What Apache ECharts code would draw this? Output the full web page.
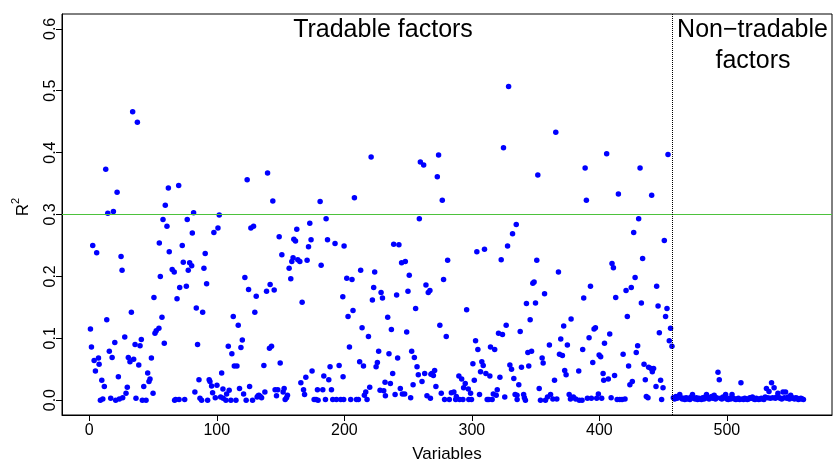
<!DOCTYPE html>
<html>
<head>
<meta charset="utf-8">
<script src="https://cdn.jsdelivr.net/npm/echarts@6.0.0/dist/echarts.min.js"></script>
<style>
  html, body { margin: 0; padding: 0; background: #fff; }
  #chart { width: 833px; height: 461px; }
</style>
</head>
<body>
<div id="chart"></div>
<script>
// variable index, R^2
const tradable = [
  [0.9, 0.115], [1.7, 0.086], [2.7, 0.250], [3.8, 0.064], [4.8, 0.047], [5.8, 0.238],
  [7.2, 0.068], [7.7, 0.058], [8.7, 0.000], [9.8, 0.032], [10.6, 0.002], [11.8, 0.022],
  [12.9, 0.373], [13.7, 0.130], [14.5, 0.302], [15.7, 0.079], [16.8, 0.003], [17.9, 0.069],
  [18.9, 0.305], [20.0, 0.093], [20.7, 0.000], [21.8, 0.336], [22.8, 0.038], [23.6, 0.002],
  [24.9, 0.232], [25.7, 0.210], [26.2, 0.004], [27.8, 0.102], [28.8, 0.011], [29.8, 0.021],
  [30.6, 0.069], [31.9, 0.062], [33.0, 0.142], [34.0, 0.466], [34.8, 0.066], [35.9, 0.090],
  [36.6, 0.003], [37.7, 0.449], [38.8, 0.057], [39.8, 0.088], [40.8, 0.098], [41.6, 0.000],
  [42.7, 0.022], [44.5, 0.000], [45.8, 0.044], [46.8, 0.030], [47.6, 0.034], [48.7, 0.068],
  [50.0, 0.011], [50.7, 0.166], [51.5, 0.108], [52.5, 0.112], [54.6, 0.116], [54.9, 0.254],
  [55.7, 0.200], [57.0, 0.134], [57.8, 0.292], [58.8, 0.092], [59.6, 0.315], [60.9, 0.281],
  [62.0, 0.343], [62.7, 0.240], [65.0, 0.211], [66.6, 0.207], [66.9, 0.000],
  [67.7, 0.001], [68.8, 0.164], [70.1, 0.347], [70.4, 0.001], [70.9, 0.182], [72.9, 0.250],
  [73.7, 0.223], [74.8, 0.001], [76.1, 0.184], [76.8, 0.292], [77.6, 0.210], [78.7, 0.222],
  [80.3, 0.217], [80.8, 0.270], [81.8, 0.303], [82.8, 0.013], [83.9, 0.149], [84.9, 0.090],
  [86.0, 0.033], [86.8, 0.003], [88.1, 0.000], [88.9, 0.142], [89.9, 0.213], [90.9, 0.237],
  [92.0, 0.188], [92.8, 0.000], [94.0, 0.033], [94.6, 0.030], [95.9, 0.023], [96.7, 0.012],
  [97.7, 0.271], [98.8, 0.004], [100.1, 0.024], [100.9, 0.278], [101.9, 0.299], [103.0, 0.005],
  [103.8, 0.044], [104.8, 0.018], [105.0, 0.003], [107.1, 0.000], [107.7, 0.010], [109.0, 0.087],
  [109.7, 0.016], [111.0, 0.000], [111.8, 0.075], [112.9, 0.135], [113.7, 0.055], [115.0, 0.000],
  [115.8, 0.055], [116.8, 0.121], [117.8, 0.019], [118.9, 0.085], [120.0, 0.097], [121.0, 0.010],
  [122.0, 0.198], [123.0, 0.000], [123.8, 0.356], [124.9, 0.179], [125.7, 0.022], [126.7, 0.278],
  [128.0, 0.000], [128.8, 0.281], [129.8, 0.142], [130.9, 0.168], [131.6, 0.005], [133.0, 0.008],
  [132.4, 0.007], [134.2, 0.006], [135.1, 0.004], [136.9, 0.056], [137.7, 0.013], [139.0, 0.176],
  [139.8, 0.367], [141.3, 0.084], [141.8, 0.187], [142.9, 0.087], [143.9, 0.322], [145.0, 0.178],
  [145.7, 0.017], [146.8, 0.007], [147.8, 0.017], [148.9, 0.264], [149.7, 0.060], [151.0, 0.235],
  [152.0, 0.013], [152.8, 0.019], [153.6, 0.001], [154.7, 0.004], [155.4, 0.008], [156.7, 0.213],
  [158.0, 0.196], [158.8, 0.224], [159.8, 0.230], [160.4, 0.260], [161.7, 0.257], [162.7, 0.276],
  [163.5, 0.227], [165.1, 0.224], [165.9, 0.028], [166.9, 0.158], [168.0, 0.017], [168.8, 0.009],
  [169.8, 0.037], [170.8, 0.226], [171.9, 0.248], [172.9, 0.286], [173.9, 0.259], [174.7, 0.047],
  [176.3, 0.001], [177.8, 0.001], [178.9, 0.017], [179.4, 0.000], [181.0, 0.321], [181.8, 0.218],
  [183.1, 0.017], [183.9, 0.039], [185.2, 0.001], [185.7, 0.293], [186.8, 0.259], [187.8, 0.033],
  [188.8, 0.054], [189.9, 0.017], [190.9, 0.001], [192.7, 0.253], [193.8, 0.001], [195.9, 0.056],
  [197.2, 0.001], [198.8, 0.167], [199.0, 0.038], [199.5, 0.001], [199.8, 0.249],
  [201.9, 0.197], [202.9, 0.135], [204.0, 0.086], [205.0, 0.001], [206.0, 0.195], [206.8, 0.145],
  [207.9, 0.327], [209.5, 0.001], [211.0, 0.001], [212.0, 0.062], [212.8, 0.210], [213.9, 0.117],
  [215.0, 0.055], [215.7, 0.008], [216.8, 0.013], [217.8, 0.001], [218.9, 0.103], [219.9, 0.021],
  [221.0, 0.393], [222.0, 0.162], [223.0, 0.182], [223.8, 0.207], [224.9, 0.054], [225.9, 0.061],
  [226.9, 0.079], [228.0, 0.016], [228.8, 0.174], [229.9, 0.165], [230.9, 0.015], [231.9, 0.029],
  [232.2, 0.007], [234.0, 0.134], [235.0, 0.075], [236.1, 0.027], [236.9, 0.114], [237.9, 0.043],
  [238.7, 0.252], [239.8, 0.009], [241.0, 0.170], [241.8, 0.068], [242.8, 0.251], [243.9, 0.019],
  [244.9, 0.222], [245.5, 0.010], [247.3, 0.010], [247.8, 0.224], [248.9, 0.110], [249.9, 0.176],
  [250.9, 0.202], [252.0, 0.004], [252.8, 0.079], [253.9, 0.025], [254.9, 0.069], [255.9, 0.148],
  [257.0, 0.054], [258.0, 0.041], [258.8, 0.293], [259.6, 0.385], [260.9, 0.030], [262.2, 0.380],
  [263.0, 0.043], [264.0, 0.186], [264.8, 0.007], [265.8, 0.174], [267.1, 0.177], [267.5, 0.003],
  [267.9, 0.042],
  [268.7, 0.043], [269.8, 0.040], [270.8, 0.048], [271.8, 0.022], [272.9, 0.361], [273.9, 0.396],
  [274.9, 0.121], [276.0, 0.011], [276.8, 0.323], [277.8, 0.195], [278.6, 0.001], [279.9, 0.103],
  [281.0, 0.226], [282.3, 0.001], [283.9, 0.012], [285.9, 0.013], [287.3, 0.001], [287.8, 0.006],
  [289.8, 0.039], [290.4, 0.001], [292.0, 0.034], [293.0, 0.001], [293.5, 0.020], [294.8, 0.027],
  [295.9, 0.146], [297.2, 0.018], [297.6, 0.001], [299.0, 0.011], [299.7, 0.001], [300.8, 0.059],
  [301.9, 0.032], [302.9, 0.096], [303.9, 0.240], [304.7, 0.082], [306.0, 0.009], [306.8, 0.046],
  [307.8, 0.062], [308.9, 0.056], [309.9, 0.244], [311.0, 0.043], [312.0, 0.001], [313.3, 0.001],
  [314.1, 0.039], [314.6, 0.086], [315.9, 0.001], [316.8, 0.010], [317.9, 0.082], [319.1, 0.008],
  [319.9, 0.017], [320.9, 0.108], [322.0, 0.037], [323.0, 0.227], [324.0, 0.106], [324.8, 0.408],
  [325.8, 0.005], [326.9, 0.121], [328.0, 0.249], [328.8, 0.507], [329.8, 0.057], [331.1, 0.050],
  [331.9, 0.269], [332.9, 0.035], [333.9, 0.009], [334.8, 0.284], [335.5, 0.001], [336.8, 0.025],
  [335.4, 0.008], [337.9, 0.111], [338.9, 0.053], [340.6, 0.009], [341.2, 0.004], [342.0, 0.000],
  [342.8, 0.156], [343.9, 0.077], [344.6, 0.055], [345.7, 0.130], [346.8, 0.079], [347.8, 0.189],
  [348.8, 0.191], [349.9, 0.157], [350.9, 0.226], [351.7, 0.364], [352.8, 0.019], [353.8, 0.000],
  [355.1, 0.068], [355.9, 0.060], [357.0, 0.172], [357.7, 0.000], [359.3, 0.005], [360.8, 0.089],
  [361.7, 0.009], [363.5, 0.002], [364.8, 0.032], [365.8, 0.433], [366.6, 0.002], [367.9, 0.207],
  [368.7, 0.074], [369.7, 0.099], [371.0, 0.072], [372.0, 0.120], [372.8, 0.048], [373.9, 0.041],
  [374.9, 0.089], [376.3, 0.009], [377.3, 0.002], [377.8, 0.131], [379.6, 0.005], [381.4, 0.002],
  [383.8, 0.047], [384.2, 0.000], [386.4, 0.000], [386.9, 0.082], [387.7, 0.165], [388.8, 0.375],
  [389.8, 0.323], [390.6, 0.003], [391.9, 0.101], [393.0, 0.184], [393.7, 0.003], [394.8, 0.061],
  [395.8, 0.115], [396.9, 0.117], [397.9, 0.003], [399.2, 0.010], [399.8, 0.073], [401.0, 0.070],
  [401.8, 0.003], [402.9, 0.043], [403.4, 0.032], [404.0, 0.092],
  [405.7, 0.398], [407.0, 0.034], [408.1, 0.107], [409.2, 0.004], [409.9, 0.221], [411.0, 0.214],
  [411.9, 0.040], [412.8, 0.166], [413.9, 0.001], [414.9, 0.333], [416.0, 0.001], [417.8, 0.001],
  [418.6, 0.074], [420.1, 0.002], [420.9, 0.177], [421.9, 0.135], [422.9, 0.055], [423.9, 0.025],
  [425.0, 0.182], [425.8, 0.030], [426.9, 0.271], [428.0, 0.198], [428.9, 0.077], [430.0, 0.088],
  [430.8, 0.293], [431.9, 0.375], [432.9, 0.157], [433.9, 0.229], [435.0, 0.058], [436.0, 0.033],
  [436.8, 0.006], [438.1, 0.004], [438.6, 0.053], [440.5, 0.051], [441.0, 0.331], [441.5, 0.046],
  [442.5, 0.051], [444.4, 0.022], [444.9, 0.184], [446.0, 0.152], [447.0, 0.109], [448.0, 0.032],
  [448.8, 0.001], [449.9, 0.020], [450.9, 0.258], [451.9, 0.135], [453.0, 0.148], [453.8, 0.397],
  [454.8, 0.096], [455.8, 0.116], [456.9, 0.087]
];

// non-tradable factors, variables 458 .. 560
const nonTradableStart = 458;
const nonTradableR2 = [
  0.004, 0.002, 0.006, 0.003, 0.005, 0.009, 0.004, 0.002, 0.003, 0.001,
  0.004, 0.002, 0.003, 0.001, 0.005, 0.009, 0.003, 0.002, 0.004, 0.001,
  0.003, 0.002, 0.001, 0.004, 0.002, 0.005, 0.009, 0.003, 0.002, 0.004,
  0.006, 0.003, 0.008, 0.002, 0.004, 0.045, 0.033, 0.003, 0.002, 0.005,
  0.004, 0.009, 0.002, 0.001, 0.003, 0.002, 0.009, 0.003, 0.002, 0.001,
  0.002, 0.003, 0.001, 0.028, 0.002, 0.001, 0.003, 0.002, 0.001, 0.002,
  0.004, 0.003, 0.005, 0.002, 0.001, 0.003, 0.002, 0.001, 0.002, 0.003,
  0.002, 0.001, 0.005, 0.019, 0.004, 0.014, 0.003, 0.028, 0.004, 0.020,
  0.003, 0.005, 0.011, 0.004, 0.003, 0.002, 0.013, 0.004, 0.013, 0.003,
  0.005, 0.002, 0.008, 0.004, 0.003, 0.002, 0.004, 0.003, 0.001, 0.002,
  0.003, 0.002, 0.001
];

const xTicks = [0, 100, 200, 300, 400, 500];
const yTicks = [0, 0.1, 0.2, 0.3, 0.4, 0.5, 0.6];
const threshold = 0.3;
const splitAt = 457.5;

let points = tradable.slice();
nonTradableR2.forEach(function(v, i) {
  points.push([nonTradableStart + i, v]);
});

const font = "'Liberation Sans', Arial, Helvetica, sans-serif";

let chart = echarts.init(document.getElementById("chart"));
let option = {
  animation: false,
  backgroundColor: "#fff",
  grid: {
    left: 62, top: 14, width: 770, height: 401,
    outerBoundsMode: "none",
    containLabel: false,
    show: true, borderColor: "#000", borderWidth: 1, backgroundColor: "transparent"
  },
  xAxis: {
    type: "value",
    min: -21.4, max: 582.4,
    name: "Variables",
    nameLocation: "middle",
    nameGap: 31,
    nameTextStyle: { fontFamily: font, fontSize: 17, color: "#000" },
    axisLine: { show: true, onZero: false, lineStyle: { color: "#000", width: 1 } },
    axisTick: { show: true, inside: false, customValues: xTicks, length: 6, lineStyle: { color: "#000" } },
    axisLabel: { customValues: xTicks, fontFamily: font, fontSize: 16, color: "#000", margin: 8 },
    splitLine: { show: false }
  },
  yAxis: {
    type: "value",
    min: -0.024, max: 0.624,
    axisLine: { show: true, onZero: false, lineStyle: { color: "#000", width: 1 } },
    axisTick: { show: true, inside: false, customValues: yTicks, length: 6, lineStyle: { color: "#000" } },
    axisLabel: {
      customValues: yTicks, rotate: 90, fontFamily: font, fontSize: 16, color: "#000", margin: 3,
      formatter: function(v) { return v.toFixed(1); }
    },
    splitLine: { show: false }
  },
  graphic: [
    { type: "text", x: 383, y: 30,
      style: { text: "Tradable factors", font: "25px " + font, fill: "#000", textAlign: "center", textVerticalAlign: "middle" } },
    { type: "text", x: 752.5, y: 30,
      style: { text: "Non\u2212tradable", font: "25px " + font, fill: "#000", textAlign: "center", textVerticalAlign: "middle" } },
    { type: "text", x: 753, y: 61,
      style: { text: "factors", font: "25px " + font, fill: "#000", textAlign: "center", textVerticalAlign: "middle" } },
    { type: "group", x: 23, y: 210, rotation: Math.PI / 2,
      children: [
        { type: "text", x: 0, y: 0,
          style: { text: "R", font: "17px " + font, fill: "#000", textAlign: "center", textVerticalAlign: "middle" } },
        { type: "text", x: 9, y: -7,
          style: { text: "2", font: "11px " + font, fill: "#000", textAlign: "center", textVerticalAlign: "middle" } }
      ] }
  ],
  series: [
    {
      type: "scatter",
      data: points,
      symbol: "circle",
      symbolSize: 5.5,
      itemStyle: { color: "#0000FF", opacity: 1 },
      silent: true,
      markLine: {
        silent: true,
        symbol: "none",
        label: { show: false },
        lineStyle: { color: "#4DC23D", width: 1, type: "solid", opacity: 1 },
        data: [{ yAxis: threshold }]
      }
    },
    {
      type: "scatter",
      data: [],
      silent: true,
      markLine: {
        silent: true,
        symbol: "none",
        label: { show: false },
        lineStyle: { color: "#000", width: 1, type: [1, 1], opacity: 1 },
        data: [{ xAxis: splitAt }]
      }
    }
  ]
};
chart.setOption(option);
</script>
</body>
</html>
